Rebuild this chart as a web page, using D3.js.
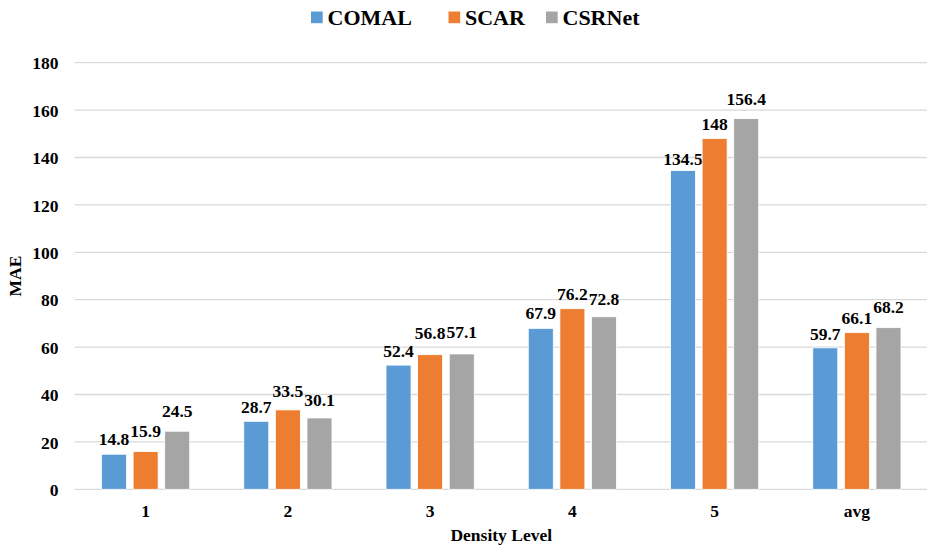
<!DOCTYPE html>
<html>
<head>
<meta charset="utf-8">
<script src="https://cdn.jsdelivr.net/npm/d3@7"></script>
<style>
  html, body { margin: 0; padding: 0; background: #fff; }
  svg { display: block; }
  svg text { font-family: "Times New Roman", "Liberation Serif", Times, "DejaVu Serif", serif !important; font-weight: bold; fill: #000; }
</style>
</head>
<body>
<svg id="chart" width="927" height="550"></svg>
<script>
// Density levels on the x axis
const categories = ["1", "2", "3", "4", "5", "avg"];
const seriesNames = ["COMAL", "SCAR", "CSRNet"];
// MAE per method
const comal  = [14.8, 28.7, 52.4, 67.9, 134.5, 59.7];
const scar   = [15.9, 33.5, 56.8, 76.2, 148, 66.1];
const csrnet = [24.5, 30.1, 57.1, 72.8, 156.4, 68.2];
const yTicks = [0, 20, 40, 60, 80, 100, 120, 140, 160, 180];

const colors = ["#5B9BD5", "#ED7D31", "#A5A5A5"];
const seriesValues = [comal, scar, csrnet];

// Vertical gap (px) between a bar top and its value label, kept clear of neighbours
const labelLift = [
  [9, 8.4, 8.3, 9, 6, 8.3],
  [14.7, 13, 16, 9, 8.7, 8.3],
  [14, 11.7, 15.7, 11.7, 14, 15]
];

const svg = d3.select("#chart");
const margin = { left: 74.5, right: 928, top: 62.7, bottom: 489.3 };

const x = d3.scaleBand().domain(categories).range([margin.left, margin.right]).paddingInner(0).paddingOuter(0);
const y = d3.scaleLinear().domain([0, 180]).range([margin.bottom, margin.top]);

// Bar width and centre-to-centre spacing inside a category
const barW = 25, barStep = 31.6;
const barX = si => x.bandwidth() / 2 + (si - 1) * barStep - barW / 2;

// Gridlines
svg.append("g").selectAll("line").data(yTicks).join("line")
  .attr("x1", margin.left).attr("x2", 927)
  .attr("y1", d => y(d)).attr("y2", d => y(d))
  .attr("stroke", "#D9D9D9").attr("stroke-width", 1.3);

// Y axis labels
const yAxis = d3.axisLeft(y).tickValues(yTicks).tickSize(0).tickPadding(0);
const yg = svg.append("g").attr("transform", `translate(58.5,0)`).call(yAxis);
yg.attr("font-family", null).attr("font-size", null);
yg.select(".domain").remove();
yg.selectAll("text").attr("font-size", 17.5).attr("dy", "0.35em");

// X axis labels
const xAxis = d3.axisBottom(x).tickSize(0).tickPadding(0);
const xg = svg.append("g").attr("transform", `translate(0,${margin.bottom})`).call(xAxis);
xg.attr("font-family", null).attr("font-size", null);
xg.select(".domain").remove();
xg.selectAll("text").attr("font-size", 17.5).attr("dy", null).attr("y", 27.5);

// Bars
const groups = svg.append("g").selectAll("g").data(categories).join("g")
  .attr("transform", d => `translate(${x(d)},0)`);

seriesNames.forEach((name, si) => {
  groups.append("rect")
    .attr("x", barX(si))
    .attr("width", barW)
    .attr("y", (d, i) => y(seriesValues[si][i]))
    .attr("height", (d, i) => y(0) - y(seriesValues[si][i]))
    .attr("fill", colors[si])
    .attr("stroke", "#fff").attr("stroke-width", 0.8);

  groups.append("text")
    .attr("x", barX(si) + barW / 2)
    .attr("y", (d, i) => y(seriesValues[si][i]) - labelLift[si][i])
    .attr("text-anchor", "middle")
    .attr("font-size", 17.5)
    .text((d, i) => seriesValues[si][i]);
});

// Axis titles
svg.append("text")
  .attr("transform", `translate(21,${(margin.top + margin.bottom) / 2}) rotate(-90)`)
  .attr("text-anchor", "middle").attr("font-size", 17.5)
  .text("MAE");

svg.append("text")
  .attr("x", (margin.left + margin.right) / 2).attr("y", 541)
  .attr("text-anchor", "middle").attr("font-size", 17.5)
  .text("Density Level");

// Legend
const legendX = [311, 448.5, 546];
const legend = svg.append("g").selectAll("g").data(seriesNames).join("g")
  .attr("transform", (d, i) => `translate(${legendX[i]},0)`);
legend.append("rect").attr("x", 0).attr("y", 11.5).attr("width", 11.7).attr("height", 11.7)
  .attr("fill", (d, i) => colors[i]);
legend.append("text").attr("x", 16.5).attr("y", 24.5).attr("font-size", 22).text(d => d);
</script>
</body>
</html>
